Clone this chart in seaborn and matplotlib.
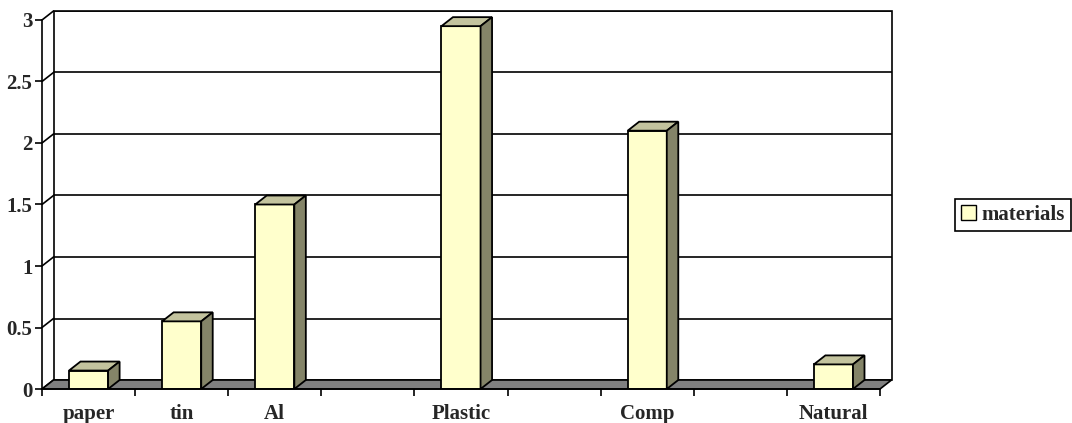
import matplotlib
matplotlib.use("Agg")
import matplotlib.pyplot as plt
from matplotlib.patches import Polygon, Rectangle, Patch
import seaborn as sns
import pandas as pd
import numpy as np

# data
categories = ["paper", "tin", "Al", "Plastic", "Comp", "Natural"]
values = [0.15, 0.55, 1.5, 2.95, 2.1, 0.2]
order = ["paper", "tin", "Al", " ", "Plastic", "  ", "Comp", "   ", "Natural"]
y_ticks = [0, 0.5, 1, 1.5, 2, 2.5, 3]
y_labels = ["0", "0.5", "1", "1.5", "2", "2.5", "3"]
series_name = "materials"

front_col = "#FFFFCC"
top_col = "#C3C39E"
side_col = "#848468"
floor_col = "#808080"

sns.set_style("white")
plt.rcParams["font.family"] = ["Liberation Serif", "DejaVu Serif"]
plt.rcParams["font.weight"] = "bold"
fs = 15

df = pd.DataFrame({"cat": categories, "val": values})

W, H = 1072, 423
fig = plt.figure(figsize=(W / 100, H / 100), dpi=100)

# 3d depth offsets in data units
px_x = 838 / 9
px_y = 369 / 3
dx = 11.5 / px_x
dy = 9 / px_y
n = len(order)
ax = fig.add_axes([42 / W, (H - 389) / H, (838 + 11.5) / W, (369 + 9) / H])

sns.barplot(data=df, x="cat", y="val", order=order, width=0.42, color=front_col,
            saturation=1, edgecolor="black", linewidth=1.3, ax=ax, zorder=3)
ax.set_xlim(-0.5, n - 0.5 + dx)
ax.set_ylim(0, y_ticks[-1] + dy)

lw = 1.2
# floor
x0, x1 = -0.5, n - 0.5
ax.add_patch(Polygon([(x0, 0), (x1, 0), (x1 + dx, dy), (x0 + dx, dy)], closed=True,
                     facecolor=floor_col, edgecolor="black", lw=lw, zorder=1, clip_on=False))
# back wall
ax.add_patch(Rectangle((x0 + dx, dy), n, y_ticks[-1], fill=False, edgecolor="black",
                       lw=lw, zorder=0.5, clip_on=False))
# gridlines and left-wall diagonals
for v in y_ticks[1:]:
    ax.plot([x0 + dx, x1 + dx], [v + dy, v + dy], color="black", lw=lw, zorder=0.5)
for v in y_ticks:
    ax.plot([x0, x0 + dx], [v, v + dy], color="black", lw=lw, zorder=0.6, clip_on=False)

# 3d faces of the bars
for p in list(ax.patches):
    if not isinstance(p, Rectangle) or p.get_facecolor()[:3] != matplotlib.colors.to_rgb(front_col):
        continue
    h = p.get_height()
    if not np.isfinite(h) or h <= 0:
        continue
    bx0 = p.get_x()
    bx1 = bx0 + p.get_width()
    ax.add_patch(Polygon([(bx0, h), (bx1, h), (bx1 + dx, h + dy), (bx0 + dx, h + dy)],
                         closed=True, facecolor=top_col, edgecolor="black", lw=1.3, zorder=3))
    ax.add_patch(Polygon([(bx1, 0), (bx1 + dx, dy), (bx1 + dx, h + dy), (bx1, h)],
                         closed=True, facecolor=side_col, edgecolor="black", lw=1.3, zorder=3))

# axes
sns.despine(ax=ax, top=True, right=True)
ax.spines["left"].set_bounds(0, y_ticks[-1])
ax.spines["bottom"].set_bounds(x0, x1)
for s in ["left", "bottom"]:
    ax.spines[s].set_linewidth(lw)
    ax.spines[s].set_color("black")
    ax.spines[s].set_zorder(4)

ax.set_yticks(y_ticks)
ax.set_yticklabels(y_labels, fontsize=fs, fontweight="bold")
ax.tick_params(axis="y", length=5, width=lw, pad=2, color="black", left=True)

ax.set_xticks(np.arange(n + 1) - 0.5)
ax.set_xticklabels([])
ax.set_xticks(np.arange(n), minor=True)
ax.set_xticklabels(order, minor=True, fontsize=fs, fontweight="bold")
ax.tick_params(axis="x", which="major", length=5, width=lw, color="black", bottom=True)
ax.tick_params(axis="x", which="minor", length=0, pad=11)
ax.set_xlabel("")
ax.set_ylabel("")
ax.grid(False)

fig.legend(handles=[Patch(facecolor=front_col, edgecolor="black", label=series_name)],
           loc="center left", bbox_to_anchor=(955 / W, 1 - 215 / H), frameon=True,
           fancybox=False, edgecolor="black", framealpha=1, handlelength=0.7,
           handleheight=0.7, handletextpad=0.25, borderpad=0.3, borderaxespad=0,
           prop={"size": fs, "weight": "bold"})
leg = fig.legends[0]
leg.get_frame().set_linewidth(1.2)
leg._legend_box.sep = 0

fig.savefig("out.png", dpi=100)
